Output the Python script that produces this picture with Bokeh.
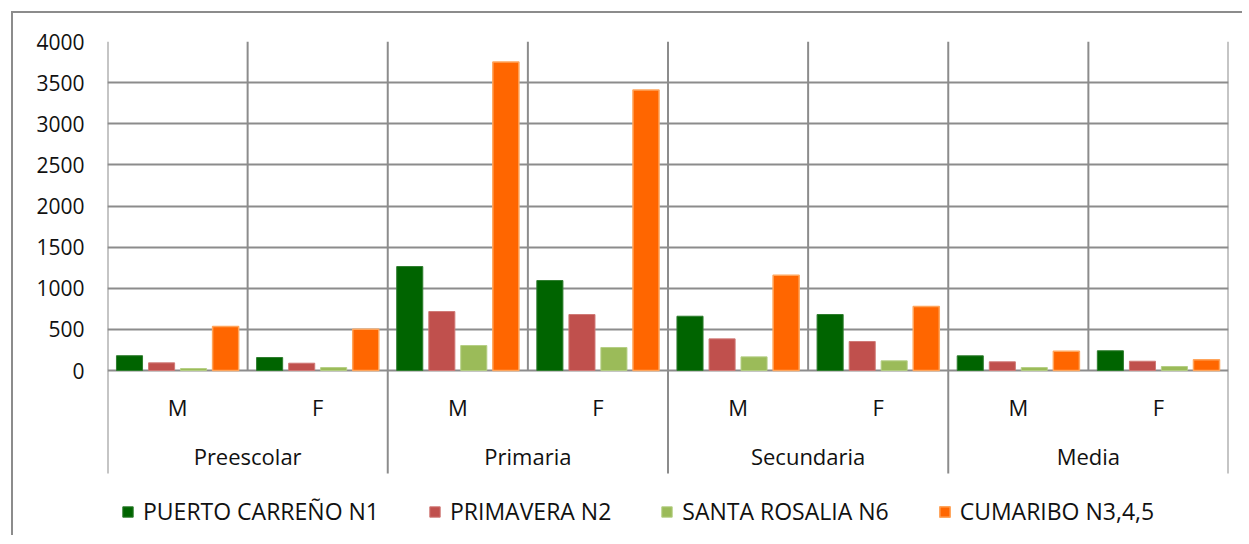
from bokeh.plotting import figure
from bokeh.models import Range1d, FixedTicker, Legend, LegendItem, ColumnDataSource
from bokeh.core.properties import value
from bokeh.embed import file_html
from bokeh.resources import INLINE

# ---- data ----
groups = ["Preescolar", "Primaria", "Secundaria", "Media"]
sexes = ["M", "F"]
series_names = ["PUERTO CARREÑO N1", "PRIMAVERA N2", "SANTA ROSALIA N6", "CUMARIBO N3,4,5"]
# values in order: Preescolar M, Preescolar F, Primaria M, Primaria F, Secundaria M, Secundaria F, Media M, Media F
puerto_carreno = [180, 158, 1264, 1094, 660, 681, 179, 240]
primavera = [93, 89, 717, 681, 385, 353, 106, 113]
santa_rosalia = [24, 36, 304, 280, 166, 118, 36, 49]
cumaribo = [535, 502, 3750, 3410, 1159, 778, 235, 130]
y_ticks = [0, 500, 1000, 1500, 2000, 2500, 3000, 3500, 4000]

colors = ["#006400", "#C0504D", "#9BBB59", "#FF6600"]
edge_colors = ["#2E7D2E", "#D07A77", "#B5CF85", "#FFA55C"]

FONT = "Open Sans"
GRID = "#8c8c8c"

n_slots = len(groups) * len(sexes)
y_min = -2030.0
y_line_bottom = -1252.0

p = figure(width=1231, height=524, output_backend="svg", toolbar_location=None,
           x_range=Range1d(0, n_slots), y_range=Range1d(y_min, 4000),
           min_border_left=94, min_border_right=16, min_border_top=28, min_border_bottom=0,
           x_axis_type=None)
p.styles = {"border-left": "2px solid #8c8c8c", "border-top": "2px solid #8c8c8c",
            "transform": "translate(11px, 11px)"}
p.outline_line_color = None
p.background_fill_color = "white"
p.border_fill_color = "white"

# y axis
p.yaxis.ticker = FixedTicker(ticks=y_ticks)
p.yaxis.axis_line_color = None
p.yaxis.major_tick_line_color = None
p.yaxis.minor_tick_line_color = None
p.yaxis.major_label_standoff = 17
p.yaxis.major_label_text_font = FONT
p.yaxis.major_label_text_font_size = "21px"
p.yaxis.major_label_text_color = "#111111"

p.ygrid.ticker = FixedTicker(ticks=y_ticks)
p.ygrid.grid_line_color = GRID
p.ygrid.grid_line_width = 2
p.xgrid.visible = False

# vertical lines in plot area (slot boundaries)
xs = list(range(n_slots + 1))
p.segment(x0=xs, x1=xs, y0=[0] * len(xs), y1=[y_ticks[-1]] * len(xs), line_color=GRID, line_width=2)
# group separators below the axis
gx = [i * len(sexes) for i in range(len(groups) + 1)]
p.segment(x0=gx, x1=gx, y0=[y_line_bottom] * len(gx), y1=[0] * len(gx), line_color=GRID, line_width=2)

# bars
offsets = [-0.343, -0.114, 0.114, 0.343]
bar_w = 0.186
all_series = [puerto_carreno, primavera, santa_rosalia, cumaribo]
items = []
for k, (name, vals) in enumerate(zip(series_names, all_series)):
    src = ColumnDataSource(dict(x=[i + 0.5 + offsets[k] for i in range(n_slots)], top=vals))
    r = p.vbar(x="x", top="top", bottom=0, width=bar_w, source=src,
               fill_color=colors[k], line_color=edge_colors[k], line_width=1.5 if k == 3 else 1)
    items.append(LegendItem(label=name, renderers=[r]))

# category labels
sub_x = [i + 0.5 for i in range(n_slots)]
sub_t = [sexes[i % len(sexes)] for i in range(n_slots)]
p.text(x=sub_x, y=[-438] * n_slots, text=sub_t, text_align="center", text_baseline="middle",
       text_font=value(FONT), text_font_size="22px", text_color="#111111")
grp_x = [g * len(sexes) + len(sexes) / 2 for g in range(len(groups))]
p.text(x=grp_x, y=[-1045] * len(groups), text=groups, text_align="center", text_baseline="middle",
       text_font=value(FONT), text_font_size="22px", text_color="#111111")

legend = Legend(items=items, orientation="horizontal", location=(14, 10),
                glyph_width=13, glyph_height=13, label_standoff=9, spacing=49,
                padding=0, margin=0, border_line_color=None, background_fill_alpha=0,
                label_text_font=FONT, label_text_font_size="23px", label_text_color="#111111")
p.add_layout(legend)

open("out.html", "w").write(file_html(p, INLINE))
